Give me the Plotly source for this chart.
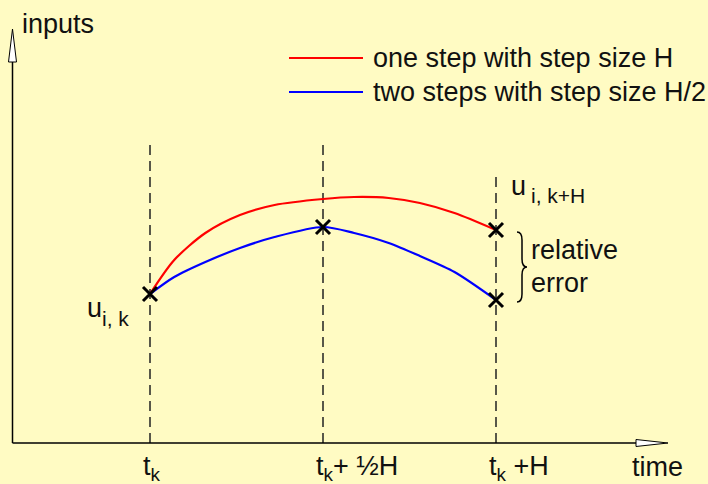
import plotly.graph_objects as go

W, H = 708, 484

# ---- data (x in units of H from t_k, y in arbitrary input units) ----
x_curve = [0, 0.07, 0.16, 0.26, 0.36, 0.5, 0.59, 0.69, 0.78, 0.88, 1.0]
y_one_step = [1.49, 1.83, 2.10, 2.28, 2.38, 2.44, 2.46, 2.45, 2.40, 2.30, 2.13]
y_two_steps = [1.49, 1.66, 1.81, 1.95, 2.06, 2.16, 2.10, 2.00, 1.87, 1.71, 1.43]
x_marks = [0, 0.5, 1, 1]
y_marks = [1.49, 2.16, 2.13, 1.43]
step_x = [0, 0.5, 1]
step_top = [3.03, 3.03, 2.68]
tick_text = ["t<sub>k</sub>", "t<sub>k</sub>+ ½H", "t<sub>k</sub> +H"]
series_names = ["one step with step size H", "two steps with step size H/2"]
series_colors = ["#FF0000", "#0000FF"]

BG = "#FFFBC3"
FONT = "Liberation Sans, Arial, Helvetica, sans-serif"
FS = 27
TXT = "#111111"


def px(x):
    return x / W


def py(y):
    return 1 - y / H


def P(x, y):
    return f"{px(x):.5f},{py(y):.5f}"


fig = go.Figure()

for ys, name, col in zip([y_one_step, y_two_steps], series_names, series_colors):
    fig.add_trace(go.Scatter(x=x_curve, y=ys, mode="lines", name=name,
                             line=dict(color=col, width=2.2, shape="spline", smoothing=0.8),
                             showlegend=False, hoverinfo="skip"))

fig.add_trace(go.Scatter(x=x_marks, y=y_marks, mode="markers",
                         marker=dict(symbol="x-thin", size=14,
                                     line=dict(color="black", width=3)),
                         showlegend=False, hoverinfo="skip"))

shapes = []
# dashed step lines
for sx, st in zip(step_x, step_top):
    shapes.append(dict(type="line", xref="x", yref="y", x0=sx, x1=sx, y0=0, y1=st,
                       line=dict(color="#222222", width=1.5, dash="10px,6px"), layer="below"))
# axis lines
shapes.append(dict(type="line", xref="paper", yref="paper",
                   x0=px(12.5), x1=px(12.5), y0=py(443), y1=py(62),
                   line=dict(color="black", width=1.5)))
shapes.append(dict(type="line", xref="paper", yref="paper",
                   x0=px(12.5), x1=px(636), y0=py(443), y1=py(443),
                   line=dict(color="black", width=1.5)))
# arrowheads (open triangles)
shapes.append(dict(type="path", xref="paper", yref="paper",
                   path=f"M{P(8.5, 62)} L{P(12.5, 29)} L{P(16.5, 62)} Z",
                   fillcolor="white", line=dict(color="black", width=1)))
shapes.append(dict(type="path", xref="paper", yref="paper",
                   path=f"M{P(636, 439.5)} L{P(668, 443)} L{P(636, 446.5)} Z",
                   fillcolor="white", line=dict(color="black", width=1)))
# legend lines
for i, col in enumerate(series_colors):
    yy = 58 + i * 34
    shapes.append(dict(type="line", xref="paper", yref="paper",
                       x0=px(289), x1=px(363), y0=py(yy), y1=py(yy),
                       line=dict(color=col, width=2)))
# brace
brace = (f"M{P(517, 232)} Q{P(522, 232)} {P(522, 240)} L{P(522, 259)} "
         f"Q{P(522, 267)} {P(527, 267)} Q{P(522, 267)} {P(522, 275)} "
         f"L{P(522, 294)} Q{P(522, 302)} {P(517, 302)}")
shapes.append(dict(type="path", xref="paper", yref="paper", path=brace,
                   line=dict(color="black", width=1.5)))

annotations = []


def ann(text, x, y, anchor="left", size=FS):
    annotations.append(dict(text=text, x=px(x), y=py(y), xref="paper", yref="paper",
                            xanchor=anchor, yanchor="middle", showarrow=False,
                            font=dict(family=FONT, size=size, color=TXT)))


ann("inputs", 20, 24)
for i, name in enumerate(series_names):
    ann(name, 371, 58 + i * 34)
ann("u", 509, 186)
ann("i, k+H", 529, 195, size=21)
ann("u", 85, 308)
ann("i, k", 100, 318, size=21)
ann("relative", 529, 250)
ann("error", 529, 283)
ann("time", 630, 467)

# tick labels at the step positions, left-aligned just before each step line
for sx, tt in zip(step_x, tick_text):
    annotations.append(dict(text=tt, x=sx, xref="x", y=py(468), yref="paper",
                            xanchor="left", yanchor="middle", xshift=-9,
                            showarrow=False,
                            font=dict(family=FONT, size=FS, color=TXT)))

fig.update_layout(
    width=W, height=H,
    margin=dict(l=0, r=0, t=0, b=0),
    paper_bgcolor=BG, plot_bgcolor=BG,
    shapes=shapes, annotations=annotations,
    xaxis=dict(range=[-150 / 346, (W - 150) / 346], domain=[0, 1],
               showgrid=False, zeroline=False, showline=False, ticks="",
               showticklabels=False, automargin=False, fixedrange=True),
    yaxis=dict(range=[0, 4.43], domain=[41 / H, 1],
               showgrid=False, zeroline=False, showline=False,
               showticklabels=False, ticks="", automargin=False, fixedrange=True),
    showlegend=False,
)

fig.write_html("out.html", config={"displayModeBar": False},
               post_script=f"document.body.style.margin='0';document.body.style.background='{BG}';")
